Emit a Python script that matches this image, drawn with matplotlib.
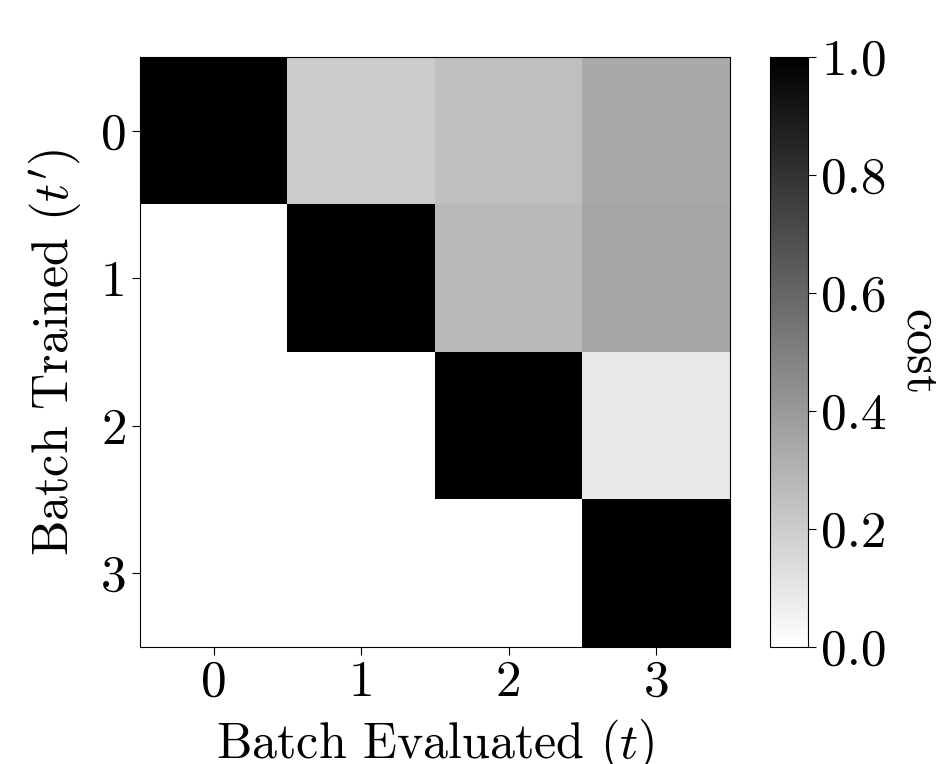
import matplotlib
matplotlib.use("Agg")
import matplotlib.pyplot as plt
import numpy as np

plt.rcParams['font.family'] = ['cmr10', 'DejaVu Serif']
plt.rcParams['mathtext.fontset'] = 'cm'
plt.rcParams['axes.formatter.use_mathtext'] = True
plt.rcParams['axes.unicode_minus'] = False

batches_eval = [0, 1, 2, 3]
batches_trained = [0, 1, 2, 3]
row0 = [1.0, 0.20, 0.25, 0.337]
row1 = [0.0, 1.0, 0.275, 0.353]
row2 = [0.0, 0.0, 1.0, 0.09]
row3 = [0.0, 0.0, 0.0, 1.0]
cost = np.array([row0, row1, row2, row3])

fig = plt.figure(figsize=(9.37, 7.64), dpi=100)
ax = fig.add_axes([140/937, 1-647/764, 590/937, 590/764])
cax = fig.add_axes([770/937, 1-647/764, 38/937, 590/764])

im = ax.imshow(cost, cmap='gray_r', vmin=0, vmax=1, aspect='auto')
ax.set_xticks(batches_eval)
ax.set_yticks(batches_trained)
ax.set_xticklabels([str(b) for b in batches_eval])
ax.set_yticklabels([str(b) for b in batches_trained])
ax.tick_params(labelsize=37, length=6)
ax.set_xlabel(r'Batch Evaluated ($t$)', fontsize=36, labelpad=8)
ax.set_ylabel(r"Batch Trained ($t^{\prime}$)", fontsize=36, labelpad=12)

cb = fig.colorbar(im, cax=cax)
cb.set_ticks([0, 0.2, 0.4, 0.6, 0.8, 1.0])
cb.set_ticklabels(['0.0', '0.2', '0.4', '0.6', '0.8', '1.0'])
cb.ax.tick_params(labelsize=37, length=6)
cb.set_label('cost', fontsize=36, rotation=270, labelpad=39)

fig.savefig('out.png', dpi=100)
